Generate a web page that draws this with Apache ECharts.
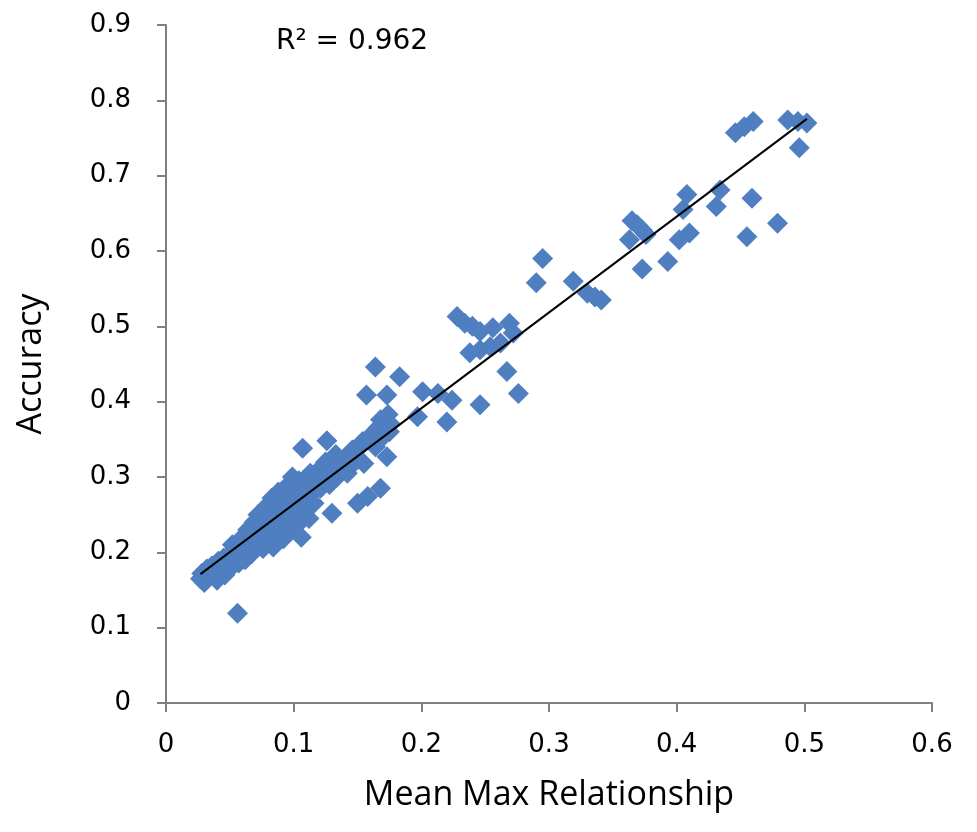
<!DOCTYPE html>
<html>
<head>
<meta charset="utf-8">
<script src="https://cdn.jsdelivr.net/npm/echarts@6/dist/echarts.min.js"></script>
<style>
  html, body { margin: 0; padding: 0; background: #fff; }
  #chart { width: 977px; height: 832px; }
</style>
</head>
<body>
<div id="chart"></div>
<script>
// values
const xTicks = [0, 0.1, 0.2, 0.3, 0.4, 0.5, 0.6];
const yTicks = [0, 0.1, 0.2, 0.3, 0.4, 0.5, 0.6, 0.7, 0.8, 0.9];
const rSquared = '0.962';

const meanMax = [
  0.027, 0.028, 0.030, 0.032, 0.034, 0.036, 0.038, 0.040, 0.041, 0.043,
  0.045, 0.046, 0.048, 0.050, 0.051, 0.052, 0.054, 0.055, 0.056, 0.057,
  0.058, 0.060, 0.061, 0.062, 0.063, 0.064, 0.066, 0.067, 0.068, 0.069,
  0.070, 0.071, 0.072, 0.074, 0.075, 0.076, 0.077, 0.078, 0.079, 0.080,
  0.081, 0.082, 0.083, 0.084, 0.085, 0.086, 0.087, 0.088, 0.089, 0.090,
  0.091, 0.092, 0.093, 0.094, 0.095, 0.096, 0.097, 0.098, 0.099, 0.100,
  0.101, 0.102, 0.103, 0.104, 0.105, 0.106, 0.107, 0.108, 0.110, 0.111,
  0.112, 0.113, 0.115, 0.116, 0.118, 0.120, 0.121, 0.123, 0.125, 0.126,
  0.127, 0.128, 0.130, 0.131, 0.133, 0.134, 0.136, 0.138, 0.140, 0.142,
  0.144, 0.146, 0.148, 0.150, 0.152, 0.154, 0.155, 0.157, 0.158, 0.160,
  0.162, 0.164, 0.164, 0.166, 0.168, 0.168, 0.171, 0.173, 0.173, 0.174,
  0.175, 0.176, 0.183, 0.197, 0.201, 0.213, 0.220, 0.224, 0.228, 0.234,
  0.240, 0.246, 0.256, 0.269, 0.272, 0.238, 0.246, 0.254, 0.262, 0.267,
  0.276, 0.246, 0.290, 0.295, 0.319, 0.330, 0.336, 0.341, 0.363, 0.365,
  0.369, 0.373, 0.376, 0.373, 0.393, 0.402, 0.405, 0.408, 0.410, 0.431,
  0.434, 0.455, 0.459, 0.479, 0.446, 0.453, 0.460, 0.487, 0.495, 0.502,
  0.496
];
const accuracy = [
  0.165, 0.172, 0.160, 0.178, 0.168, 0.182, 0.175, 0.163, 0.188, 0.178,
  0.192, 0.170, 0.185, 0.198, 0.180, 0.210, 0.192, 0.202, 0.119, 0.186,
  0.215, 0.200, 0.222, 0.190, 0.208, 0.230, 0.215, 0.198, 0.225, 0.240,
  0.210, 0.232, 0.250, 0.220, 0.238, 0.205, 0.245, 0.228, 0.262, 0.215,
  0.250, 0.235, 0.272, 0.207, 0.242, 0.258, 0.225, 0.280, 0.248, 0.232,
  0.265, 0.218, 0.255, 0.275, 0.240, 0.290, 0.228, 0.260, 0.300, 0.245,
  0.280, 0.235, 0.268, 0.295, 0.252, 0.220, 0.338, 0.275, 0.260, 0.290,
  0.245, 0.305, 0.280, 0.265, 0.295, 0.310, 0.285, 0.300, 0.320, 0.348,
  0.305, 0.290, 0.252, 0.318, 0.330, 0.300, 0.318, 0.310, 0.325, 0.305,
  0.332, 0.336, 0.320, 0.265, 0.340, 0.347, 0.318, 0.409, 0.274, 0.352,
  0.358, 0.446, 0.340, 0.365, 0.376, 0.285, 0.355, 0.327, 0.409, 0.383,
  0.360, 0.370, 0.433, 0.380, 0.413, 0.411, 0.373, 0.402, 0.513, 0.504,
  0.500, 0.493, 0.498, 0.504, 0.491, 0.465, 0.469, 0.473, 0.478, 0.440,
  0.411, 0.396, 0.558, 0.590, 0.560, 0.544, 0.539, 0.535, 0.615, 0.640,
  0.635, 0.628, 0.622, 0.576, 0.586, 0.615, 0.655, 0.675, 0.624, 0.659,
  0.681, 0.619, 0.670, 0.637, 0.757, 0.765, 0.772, 0.774, 0.772, 0.770,
  0.737
];

const points = meanMax.map((x, i) => [x, accuracy[i]]);

// least squares trendline over the data range
const n = points.length;
let sx = 0, sy = 0, sxx = 0, sxy = 0;
points.forEach(p => { sx += p[0]; sy += p[1]; sxx += p[0] * p[0]; sxy += p[0] * p[1]; });
const slope = (n * sxy - sx * sy) / (n * sxx - sx * sx);
const intercept = (sy - slope * sx) / n;
const xMin = Math.min(...meanMax), xMax = Math.max(...meanMax);
const trend = [[xMin, intercept + slope * xMin], [xMax, intercept + slope * xMax]];

const font = 'Open Sans';
const tickFont = 'DejaVu Sans';
const axisGray = '#808080';

let chart = echarts.init(document.getElementById('chart'), null, { renderer: 'canvas' });
chart.setOption({
  animation: false,
  grid: { left: 166, right: 45, top: 25, bottom: 129 },
  xAxis: {
    type: 'value',
    min: xTicks[0],
    max: xTicks[xTicks.length - 1],
    interval: 0.1,
    name: 'Mean Max Relationship',
    nameLocation: 'middle',
    nameGap: 75,
    nameTextStyle: { fontFamily: font, fontSize: 34, color: '#000' },
    axisLine: { show: true, lineStyle: { color: axisGray, width: 2 } },
    axisTick: { show: true, length: 9, lineStyle: { color: axisGray, width: 2 } },
    axisLabel: { fontFamily: tickFont, fontSize: 26, color: '#000', margin: 29,
                 formatter: v => String(+v.toFixed(1)) },
    splitLine: { show: false }
  },
  yAxis: {
    type: 'value',
    min: yTicks[0],
    max: yTicks[yTicks.length - 1],
    interval: 0.1,
    name: 'Accuracy',
    nameLocation: 'middle',
    nameGap: 118,
    nameRotate: 90,
    nameTextStyle: { fontFamily: font, fontSize: 34, color: '#000' },
    axisLine: { show: true, lineStyle: { color: axisGray, width: 2 } },
    axisTick: { show: true, length: 9, lineStyle: { color: axisGray, width: 2 } },
    axisLabel: { fontFamily: tickFont, fontSize: 26, color: '#000', margin: 35,
                 formatter: v => String(+v.toFixed(1)) },
    splitLine: { show: false }
  },
  graphic: [{
    type: 'text',
    left: 276,
    top: 28,
    style: { text: 'R² = ' + rSquared, fontFamily: tickFont, fontSize: 28, fill: '#000' }
  }],
  series: [
    {
      name: 'Accuracy',
      type: 'scatter',
      symbol: 'diamond',
      symbolSize: 21,
      itemStyle: { color: '#4f7fc0', opacity: 1 },
      data: points,
      z: 2
    },
    {
      name: 'Trend',
      type: 'line',
      symbol: 'none',
      lineStyle: { color: '#000', width: 2 },
      data: trend,
      z: 3
    }
  ]
});
window.onresize = function () {
  chart.resize();
};
</script>
</body>
</html>
